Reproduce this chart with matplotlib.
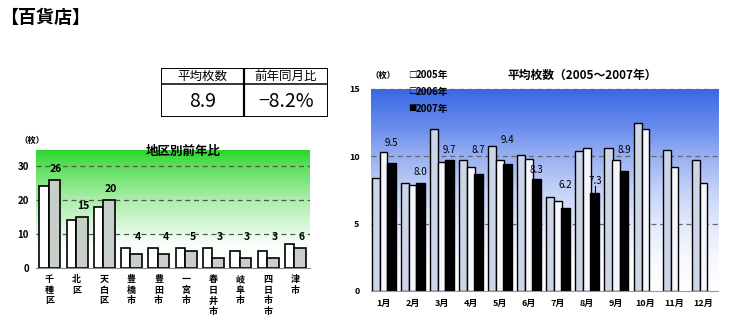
import numpy as np
import matplotlib.pyplot as plt
from matplotlib.colors import LinearSegmentedColormap
from matplotlib.patches import Rectangle

plt.rcParams['font.family'] = ['Noto Sans CJK JP', 'DejaVu Sans']

# 地区別前年比 (枚)
districts = ['千種区', '北区', '天白区', '豊橋市', '豊田市', '一宮市',
             '春日井市', '岐阜市', '四日市市', '津市']
prev_year = [24, 14, 18, 6, 6, 6, 6, 5, 5, 7]
this_year = [26, 15, 20, 4, 4, 5, 3, 3, 3, 6]

# 平均枚数 2005-2007 (枚)
months = [f'{m}月' for m in range(1, 13)]
avg_2005 = [8.4, 8.0, 12.05, 9.7, 10.8, 10.1, 7.0, 10.4, 10.6, 12.5, 10.5, 9.7]
avg_2006 = [10.3, 7.9, 9.6, 9.2, 9.7, 9.8, 6.7, 10.6, 9.7, 12.05, 9.2, 8.0]
avg_2007 = [9.5, 8.0, 9.7, 8.7, 9.4, 8.3, 6.2, 7.3, 8.9]
years = ['2005年', '2006年', '2007年']

summary_head = ['平均枚数', '前年同月比']
summary_vals = ['8.9', '−8.2%']

# label placement above the 2007 bars (offset from bar top)
label_lift = [1.5, 0.85, 0.8, 1.8, 1.8, 0.7, 1.65, 0.9, 1.55]

W, H = 730, 327
fig = plt.figure(figsize=(W / 100, H / 100), dpi=100)


def px_axes(x0, y0, x1, y1):
    return fig.add_axes([x0 / W, 1 - y1 / H, (x1 - x0) / W, (y1 - y0) / H])


grad = np.linspace(0, 1, 256).reshape(-1, 1)

# ---- 左: 地区別前年比
ax1 = px_axes(36, 150, 310, 268)
top1 = 34.7
xl1 = (-0.49, 9.55)
greens = LinearSegmentedColormap.from_list(
    'gr', [(0, 'white'), (0.2, '#fbfefb'), (0.29, '#e6fae6'), (0.58, '#aaeeaa'),
           (0.86, '#5ee05e'), (1, '#2cd62c')])
ax1.imshow(grad, cmap=greens, origin='lower', aspect='auto',
           extent=[xl1[0], xl1[1], 0, top1], zorder=0)
for g in [10, 20, 30]:
    ax1.axhline(g, color='#555555', lw=0.9, dashes=(4, 3), zorder=1)

x = np.arange(len(districts))
ax1.bar(x - 0.2, prev_year, 0.34, color='white', edgecolor='black', lw=1.2, zorder=3)
ax1.bar(x + 0.185, this_year, 0.43, color='#c8cec8', edgecolor='black', lw=1.2, zorder=3)
for i, v in enumerate(this_year):
    ax1.text(i + 0.25, max(v + 1.7, 7.5), str(v), ha='center', va='bottom',
             fontsize=7.5, fontweight='bold')

ax1.set_xlim(*xl1)
ax1.set_ylim(0, top1)
ax1.set_yticks([0, 10, 20, 30])
ax1.set_yticklabels(['0', '10', '20', '30'], fontsize=7, fontweight='bold')
ax1.set_xticks(x)
ax1.set_xticklabels(['\n'.join(d) for d in districts], fontsize=6.5,
                    fontweight='bold', linespacing=1.25, va='top')
ax1.tick_params(length=0)
ax1.tick_params(axis='y', pad=5)
ax1.tick_params(axis='x', pad=5)
for s in ['top', 'right', 'left']:
    ax1.spines[s].set_visible(False)
ax1.spines['bottom'].set_color('#888888')
ax1.text(0.536, 0.985, '地区別前年比', transform=ax1.transAxes, ha='center',
         va='center', fontsize=9, fontweight='bold', zorder=6)
fig.text(32 / W, 1 - 140 / H, '（枚）', ha='center', va='center',
         fontsize=6, fontweight='bold')

# ---- 右: 平均枚数
ax2 = px_axes(370.7, 89, 718, 291)
xl2 = (-0.44, 11.5)
blues = LinearSegmentedColormap.from_list(
    'bl', [(0, 'white'), (0.17, '#f6f8fe'), (0.33, '#e2e9fc'), (0.5, '#c4d2f8'),
           (0.67, '#98aff2'), (0.83, '#6488ec'), (1, '#3a69e6')])
ax2.imshow(grad, cmap=blues, origin='lower', aspect='auto',
           extent=[xl2[0], xl2[1], 0, 15], zorder=0)
for g in [5, 10, 15]:
    ax2.axhline(g, color='#666666', lw=0.9, dashes=(4, 3), zorder=1, clip_on=False)

m = np.arange(len(months))
ax2.bar(m - 0.265, avg_2005, 0.28, color='#cdd5e8', edgecolor='black', lw=1.0, zorder=3)
ax2.bar(m, avg_2006, 0.26, color='#f4f6fc', edgecolor='black', lw=1.0, zorder=4)
m7 = m[:len(avg_2007)] + 0.265
ax2.bar(m7, avg_2007, 0.30, color='black', edgecolor='black', lw=1.0, zorder=5)
for xi, v, lift in zip(m7, avg_2007, label_lift):
    ax2.text(xi, v + lift, f'{v:.1f}', ha='center', va='center', fontsize=7, zorder=6)
# 8月の引き出し線
ax2.plot([m7[7], m7[7]], [avg_2007[7], avg_2007[7] + 0.5], color='black', lw=0.8, zorder=6)

ax2.set_xlim(*xl2)
ax2.set_ylim(0, 15)
ax2.set_yticks([0, 5, 10, 15])
ax2.set_yticklabels(['0', '5', '10', '15'], fontsize=6.5, fontweight='bold')
ax2.set_xticks(m)
ax2.set_xticklabels(months, fontsize=6.5, fontweight='bold')
ax2.tick_params(length=0)
ax2.tick_params(axis='y', pad=8)
ax2.tick_params(axis='x', pad=6)
for s in ['top', 'right', 'left']:
    ax2.spines[s].set_visible(False)
ax2.spines['bottom'].set_color('#999999')

fig.text(582 / W, 1 - 75 / H, '平均枚数（2005～2007年）', ha='center', va='center',
         fontsize=8.5, fontweight='bold')
fig.text(383 / W, 1 - 75 / H, '（枚）', ha='center', va='center',
         fontsize=6, fontweight='bold')
for yy, mark, lab in zip([75, 92, 109], ['□', '□', '■'], years):
    fig.text(412 / W, 1 - yy / H, mark, ha='center', va='center',
             fontsize=6, fontweight='bold', zorder=7)
    fig.text(415.5 / W, 1 - yy / H, lab, ha='left', va='center',
             fontsize=7, fontweight='bold', zorder=7)

# ---- 上: 見出しと表
fig.text(0, 1 - 17 / H, '【百貨店】', ha='left', va='center',
         fontsize=13, fontweight='bold')

tab = px_axes(161, 68, 328, 117)
tab.set_xlim(0, 167)
tab.set_ylim(49, 0)
tab.axis('off')
tab.add_patch(Rectangle((0, 0), 167, 49, fill=False, lw=1.4, edgecolor='black'))
tab.plot([0, 167], [15.5, 15.5], color='black', lw=1.1)
tab.plot([83, 83], [0, 49], color='black', lw=1.6)
for cx, head, val in zip([41.5, 125], summary_head, summary_vals):
    tab.text(cx, 8.5, head, ha='center', va='center', fontsize=9)
    tab.text(cx, 33.5, val, ha='center', va='center', fontsize=14)

fig.savefig('out.png', dpi=100)
